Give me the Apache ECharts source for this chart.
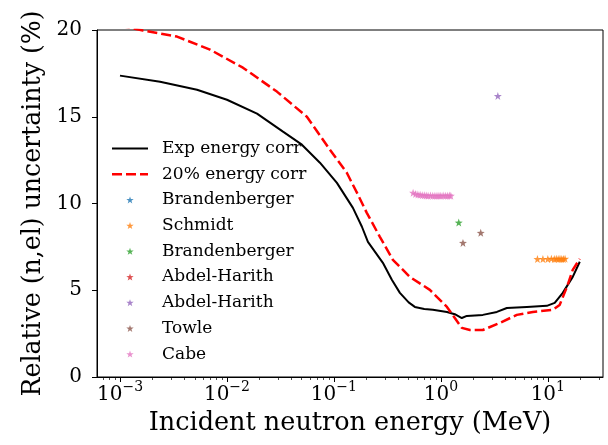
<!DOCTYPE html>
<html>
<head>
<meta charset="utf-8">
<script src="https://cdn.jsdelivr.net/npm/echarts@6/dist/echarts.min.js"></script>
<style>html,body{margin:0;padding:0;background:#fff}#c{width:608px;height:445px}</style>
</head>
<body>
<div id="c"></div>
<script>
// ---- data (energies in MeV, uncertainties in %) ----
const expE = [0.001, 0.00237, 0.00525, 0.0100, 0.0191, 0.0334, 0.0502, 0.0740, 0.1067, 0.1506, 0.1828, 0.208, 0.287, 0.348, 0.414, 0.50, 0.571, 0.70, 0.842, 1.14, 1.35, 1.57, 1.75, 2.47, 3.34, 4.14, 6.37, 9.79, 11.6, 13.8, 17.1, 19.9];
const expU = [17.37, 17.02, 16.56, 15.98, 15.18, 14.14, 13.39, 12.35, 11.19, 9.75, 8.66, 7.79, 6.58, 5.60, 4.85, 4.30, 4.04, 3.92, 3.87, 3.75, 3.62, 3.40, 3.52, 3.58, 3.75, 3.98, 4.04, 4.10, 4.27, 4.85, 5.77, 6.64];
const corrE = [0.001, 0.00164, 0.00341, 0.00694, 0.0141, 0.0293, 0.0559, 0.0918, 0.132, 0.168, 0.203, 0.269, 0.356, 0.414, 0.513, 0.789, 1.14, 1.57, 1.87, 2.47, 3.56, 5.13, 7.24, 11.1, 12.9, 15.1, 17.1, 19.9];
const corrU = [20.25, 19.97, 19.62, 18.87, 17.83, 16.45, 15.00, 13.10, 11.77, 10.50, 9.46, 8.08, 6.75, 6.35, 5.77, 5.02, 4.04, 2.83, 2.71, 2.71, 3.12, 3.58, 3.75, 3.87, 4.15, 5.19, 6.17, 6.81];

const brand1E = [], brand1U = [];
const schmidtE = [8.0, 9.0, 10.0, 10.8, 11.5, 12.0, 12.5, 13.0, 13.5, 14.0, 14.5];
const schmidtU = [6.8, 6.8, 6.8, 6.82, 6.8, 6.82, 6.8, 6.82, 6.8, 6.8, 6.82];
const brand2E = [1.47];
const brand2U = [8.9];
const abdel1E = [], abdel1U = [];
const abdel2E = [3.41];
const abdel2U = [16.2];
const towleE = [1.61, 2.36];
const towleU = [7.73, 8.31];
const cabeE = [0.55, 0.58, 0.61, 0.64, 0.67, 0.70, 0.73, 0.76, 0.80, 0.84, 0.88, 0.92, 0.96, 1.00, 1.05, 1.10, 1.15, 1.20, 1.24];
const cabeU = [10.62, 10.55, 10.52, 10.5, 10.48, 10.47, 10.46, 10.45, 10.46, 10.45, 10.44, 10.45, 10.44, 10.45, 10.46, 10.44, 10.45, 10.46, 10.45];

const seriesNames = ['Exp energy corr', '20% energy corr', 'Brandenberger', 'Schmidt', 'Brandenberger\u200B', 'Abdel-Harith', 'Abdel-Harith\u200B', 'Towle', 'Cabe'];
const yTicks = [0, 5, 10, 15, 20];
const xMajorExp = [-3, -2, -1, 0, 1];

// ---- chart ----
const colors = ['#000000', '#ff0000', '#1f77b4', '#ff7f0e', '#2ca02c', '#d62728', '#9467bd', '#8c564b', '#e377c2'];
const FONT = 'DejaVu Serif';
const star = 'path://M0,-10 L2.35,-3.24 L9.51,-3.09 L3.8,1.24 L5.88,8.09 L0,4 L-5.88,8.09 L-3.8,1.24 L-9.51,-3.09 L-2.35,-3.24 Z';
const solidIcon = 'path://M0,0 H36 V2 H0 Z';
const dashIcon = 'path://M0,0 H10 V2.5 H0 Z M14,0 H24 V2.5 H14 Z M28,0 H36 V2.5 H28 Z';
const xMin = -3.215, xMax = 1.516;
const toPts = (E, U) => E.map((e, i) => [Math.log10(e), U[i]]);
const expText = v => (v < 0 ? '\u2212' + (-v) : String(v));
const minorTicks = [];
for (let k = -4; k <= 1; k++) for (let m = 2; m <= 9; m++) {
  const v = Math.log10(m * Math.pow(10, k));
  if (v > xMin && v < xMax) minorTicks.push(v);
}
const scatterSets = [[brand1E, brand1U], [schmidtE, schmidtU], [brand2E, brand2U], [abdel1E, abdel1U], [abdel2E, abdel2U], [towleE, towleU], [cabeE, cabeU]];

const series = [
  { name: seriesNames[0], type: 'line', data: toPts(expE, expU), symbol: 'none', clip: true,
    lineStyle: { color: colors[0], width: 2 }, itemStyle: { color: colors[0] } },
  { name: seriesNames[1], type: 'line', data: toPts(corrE, corrU), symbol: 'none', clip: true,
    lineStyle: { color: colors[1], width: 2.5, type: [10, 4] }, itemStyle: { color: colors[1] } }
];
scatterSets.forEach((s, i) => {
  series.push({ name: seriesNames[i + 2], type: 'scatter', data: toPts(s[0], s[1]), symbol: star, symbolSize: 8,
    itemStyle: { color: colors[i + 2] } });
});

const baseRich = {
  b: { fontFamily: FONT, fontSize: 20, color: '#000', lineHeight: 22 },
  hb: { fontFamily: FONT, fontSize: 20, color: 'rgba(0,0,0,0)', lineHeight: 22 },
  s: { fontFamily: FONT, fontSize: 14, color: '#000', lineHeight: 22 },
  hs: { fontFamily: FONT, fontSize: 14, color: 'rgba(0,0,0,0)', lineHeight: 22 }
};

const chart = echarts.init(document.getElementById('c'), null, { renderer: 'canvas' });
chart.setOption({
  animation: false,
  color: colors,
  grid: { left: 97, top: 30, right: 5, bottom: 68, show: true, borderColor: '#000', borderWidth: 1, backgroundColor: 'transparent' },
  legend: {
    orient: 'vertical', left: 112, top: 140, padding: 0, itemWidth: 36, itemHeight: 7, itemGap: 8.7,
    textStyle: { fontFamily: FONT, fontSize: 17, color: '#000', padding: [0, 0, 0, 9] },
    data: seriesNames.map((n, i) => ({ name: n, icon: i === 0 ? solidIcon : (i === 1 ? dashIcon : star), itemStyle: { color: colors[i] } })),
    symbolKeepAspect: true
  },
  xAxis: [{
    type: 'value', min: xMin, max: xMax, position: 'bottom',
    name: 'Incident neutron energy (MeV)', nameLocation: 'middle', nameGap: 33,
    nameTextStyle: { fontFamily: FONT, fontSize: 25.5, color: '#000', align: 'center' },
    axisLine: { show: true, onZero: false, lineStyle: { color: '#000', width: 1 } },
    axisTick: { show: true, customValues: xMajorExp, length: 5, lineStyle: { color: '#000', width: 1 } },
    axisLabel: {
      customValues: xMajorExp, margin: 7,
      formatter: v => '{b|10}{hs|' + expText(v) + '}',
      rich: baseRich
    },
    splitLine: { show: false }
  }, {
    type: 'value', min: xMin, max: xMax, position: 'bottom', gridIndex: 0,
    axisLine: { show: false, onZero: false },
    axisTick: { show: true, customValues: minorTicks, length: 3, lineStyle: { color: '#000', width: 0.7 } },
    axisLabel: { show: false },
    splitLine: { show: false }
  }, {
    type: 'value', min: xMin, max: xMax, position: 'bottom', gridIndex: 0, offset: -8,
    axisLine: { show: false, onZero: false },
    axisTick: { show: false },
    axisLabel: {
      customValues: xMajorExp, margin: 7,
      formatter: v => '{hb|10}{s|' + expText(v) + '}',
      rich: baseRich
    },
    splitLine: { show: false }
  }],
  yAxis: {
    type: 'value', min: 0, max: 20, interval: 5,
    name: 'Relative (n,el) uncertainty (%)', nameLocation: 'middle', nameGap: 50,
    nameTextStyle: { fontFamily: FONT, fontSize: 25.2, color: '#000', align: 'center' },
    axisLine: { show: true, onZero: false, lineStyle: { color: '#000', width: 1 } },
    axisTick: { show: true, length: 5, lineStyle: { color: '#000', width: 1 } },
    axisLabel: { customValues: yTicks, margin: 15, fontFamily: FONT, fontSize: 20, color: '#000' },
    splitLine: { show: false }
  },
  series: series
});
</script>
</body>
</html>
